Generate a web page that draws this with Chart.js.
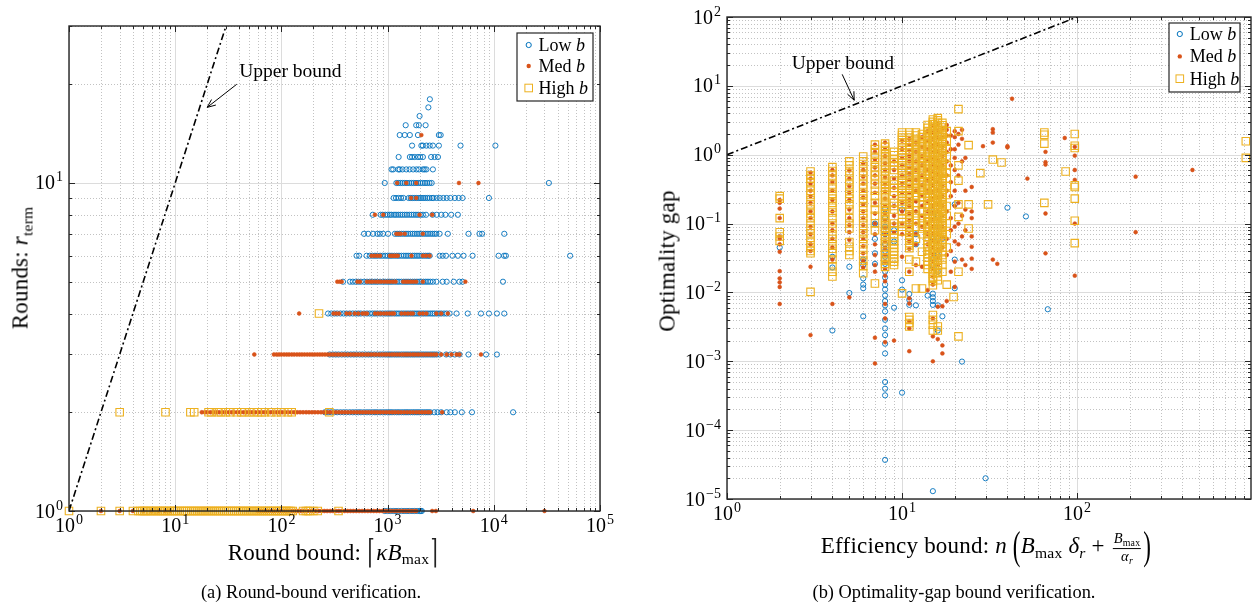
<!DOCTYPE html>
<html>
<head>
<meta charset="utf-8">
<script src="https://cdn.jsdelivr.net/npm/chart.js@4/dist/chart.umd.min.js"></script>
<style>
  body { margin: 0; width: 1258px; height: 603px; background: #fff; position: relative; overflow: hidden;
         font-family: "Liberation Serif", "DejaVu Serif", serif; color: #000; }
  canvas { position: absolute; top: 0; }
  .t { position: absolute; white-space: nowrap; transform: translate(-50%, -50%); font-size: 23px; line-height: 1; letter-spacing: 0.2px; }
  .rot { transform: translate(-50%, -50%) rotate(-90deg); }
  .cap { font-size: 18.4px; letter-spacing: 0; }
  sub { font-size: 0.68em; vertical-align: -0.3em; line-height: 0; }
  .paren { display: inline-block; transform: scale(1, 1.75); }
  .ceil { display: inline-block; transform: scale(0.8, 1.45); font-weight: 100; color: #222; }
  .frac { display: inline-flex; flex-direction: column; vertical-align: middle; font-size: 14.5px; text-align: center; line-height: 1.1; margin: 0 2px; }
  .frac > span:first-child { border-bottom: 1px solid #000; padding: 0 1px 1px; }
</style>
</head>
<body>
<canvas id="chartA" width="630" height="603" style="left:0"></canvas>
<canvas id="chartB" width="628" height="603" style="left:630px"></canvas>

<div class="t" style="left:333px; top:552px">Round bound: <span class="ceil">⌈</span><i>κB</i><sub>max</sub><span class="ceil">⌉</span></div>
<div class="t rot" style="left:20px; top:268px">Rounds: <i>r</i><sub>term</sub></div>
<div class="t cap" style="left:311px; top:592px">(a) Round-bound verification.</div>

<div class="t" style="left:986px; top:548px">Efficiency bound: <i>n</i> <span class="paren">(</span><i>B</i><sub>max</sub> <i>δ</i><sub><i>r</i></sub> + <span class="frac"><span><i>B</i><sub>max</sub></span><span><i>α</i><sub><i>r</i></sub></span></span><span class="paren">)</span></div>
<div class="t rot" style="left:667px; top:261px">Optimality gap</div>
<div class="t cap" style="left:954px; top:592px">(b) Optimality-gap bound verification.</div>

<script>
// (a) rows: [rounds, [round bound values]]
const lowA = [
  [18, [2500]],
  [17, [2420]],
  [16, [2000]],
  [15, [1480, 1860, 1970, 2280]],
  [14, [1300, 1450, 1620, 1930, 3040, 3160]],
  [13, [1700, 2080, 2150, 2320, 2490, 2670, 3040, 4860, 10350]],
  [12, [1270, 1620, 1700, 1800, 1930, 2030, 2150, 2570, 2770, 2980]],
  [11, [1090, 1130, 1260, 1300, 1380, 1500, 1610, 1740, 1870, 1980, 2150, 2230, 2320, 2670]],
  [10, [940, 1210, 1260, 1320, 1380, 1450, 1520, 1600, 1680, 1760, 1850, 1940, 2040, 2140, 2250, 2360, 2480, 2600, 33000]],
  [9, [1140, 1200, 1270, 1340, 1410, 1580, 1650, 1720, 1800, 1880, 1970, 2060, 2160, 2260, 2370, 2480, 2620, 2710, 2900, 3100, 3350, 3600, 3900, 4300, 4670, 5080, 9000]],
  [8, [725, 860, 900, 950, 1000, 1050, 1090, 1150, 1200, 1260, 1320, 1380, 1450, 1520, 1600, 1680, 1760, 1850, 1940, 2040, 2150, 2300, 2650, 2900, 3200, 3500, 3970, 4590]],
  [7, [600, 656, 730, 800, 845, 908, 1010, 1170, 1230, 1290, 1350, 1420, 1490, 1560, 1640, 1720, 1800, 1890, 1980, 2080, 2180, 2290, 2400, 2520, 2640, 2760, 2880, 3090, 3690, 5780, 7330, 7760, 12550]],
  [6, [510, 540, 634, 680, 720, 760, 800, 850, 900, 950, 1000, 1050, 1100, 1160, 1220, 1280, 1350, 1420, 1490, 1560, 1640, 1720, 1800, 1890, 1980, 2080, 2180, 2290, 2400, 2490, 3090, 3300, 3550, 4080, 4590, 5190, 6310, 11100, 12500, 13000, 52300]],
  [5, [380, 442, 470, 500, 530, 560, 600, 640, 680, 720, 760, 800, 850, 900, 950, 1000, 1050, 1100, 1160, 1220, 1280, 1350, 1420, 1490, 1560, 1640, 1720, 1800, 1890, 1980, 2080, 2180, 2290, 2400, 2520, 2670, 2880, 3300, 3600, 4200, 4750, 5080, 12200]],
  [4, [275, 295, 315, 335, 360, 385, 410, 440, 470, 500, 530, 560, 600, 640, 680, 720, 760, 800, 850, 900, 950, 1000, 1050, 1100, 1160, 1220, 1280, 1350, 1420, 1490, 1560, 1640, 1720, 1800, 1890, 1980, 2080, 2180, 2290, 2400, 2520, 2640, 2760, 2900, 3050, 3200, 3400, 3600, 3830, 4460, 5680, 7570, 9000, 10700, 12550]],
  [3, [285, 305, 325, 345, 370, 395, 420, 450, 480, 510, 545, 580, 620, 660, 700, 750, 800, 850, 900, 950, 1000, 1050, 1100, 1160, 1220, 1280, 1350, 1420, 1490, 1560, 1640, 1720, 1800, 1890, 1980, 2080, 2180, 2290, 2400, 2520, 2640, 2760, 2900, 3090, 3560, 3900, 4300, 4750, 5780, 8450, 10700]],
  [2, [257, 275, 295, 315, 335, 360, 385, 410, 440, 470, 500, 530, 560, 600, 640, 680, 720, 760, 800, 850, 900, 950, 1000, 1050, 1100, 1160, 1220, 1280, 1350, 1420, 1490, 1560, 1640, 1720, 1800, 1890, 1980, 2080, 2180, 2290, 2400, 2520, 2750, 2950, 3200, 3600, 3900, 4300, 5000, 6230, 15200]],
  [1, [940, 1000, 1060, 1130, 1200, 1270, 1350, 1430, 1520, 1600, 1700, 1800, 1900, 2000, 2050, 2100]]
];
const medA = [
  [14, [2080]],
  [10, [1230, 1500, 1860, 4700, 7170]],
  [9, [1660, 1860]],
  [8, [760, 910, 2000, 2630]],
  [7, [1210, 1270, 1330, 1450, 2150]],
  [6, [705, 750, 800, 850, 1050, 1100, 1150, 1200, 1250, 1680, 2150, 2300, 2490]],
  [5, [336, 354, 370, 520, 550, 640, 680, 720, 770, 820, 870, 930, 990, 1050, 1120, 1190, 1400, 1480, 1560, 1650, 1750, 1860, 2150, 5400]],
  [4, [147, 310, 330, 350, 410, 440, 490, 530, 580, 610, 640, 760, 810, 860, 920, 980, 1040, 1100, 1150, 1350, 1450, 1550, 1650, 1730, 2000, 2150, 2320, 2880, 3200, 3690]],
  [3, [55.6, 85, 90, 95, 100, 106, 112, 118, 125, 132, 140, 148, 156, 165, 175, 185, 195, 206, 218, 230, 243, 257, 272, 288, 304, 321, 340, 360, 380, 400, 425, 450, 475, 500, 530, 560, 590, 625, 660, 700, 740, 780, 830, 880, 930, 980, 1040, 1100, 1160, 1230, 1300, 1380, 1460, 1540, 1630, 1730, 1830, 1940, 2050, 2170, 2300, 2430, 2570, 2720, 2880, 3200, 3600, 4000, 4460, 4750, 7570]],
  [2, [17.8, 19, 20, 21.5, 23, 24.5, 26, 28, 30, 32, 34, 36, 38.5, 41, 44, 47, 50, 53, 57, 61, 65, 69, 74, 79, 84, 90, 96, 102, 109, 116, 124, 132, 141, 150, 160, 171, 182, 194, 207, 221, 236, 252, 269, 287, 306, 326, 348, 371, 396, 422, 450, 480, 512, 546, 582, 621, 662, 706, 753, 803, 856, 913, 974, 1040, 1110, 1180, 1260, 1340, 1430, 1530, 1630, 1740, 1860, 1980, 2110, 2250, 2400, 2520, 3260]],
  [1, [2, 3, 4, 5, 6, 7, 8, 9, 60, 64, 68, 72, 77, 82, 87, 93, 99, 105, 112, 119, 127, 135, 144, 153, 163, 174, 185, 197, 210, 224, 238, 254, 270, 288, 306, 326, 347, 370, 394, 420, 447, 476, 507, 540, 575, 612, 652, 694, 739, 787, 838, 893, 951, 1013, 1079, 1149, 1224, 1303, 1388, 1480, 1580, 1680, 1790, 1860, 2630, 2850, 6400, 30000]]
];
const highA = [
  [4, [226]],
  [2, [3, 8.1, 13.9, 15.1, 20.6, 22, 25, 27, 30, 33, 38, 42, 45, 50, 55, 60, 65, 70, 80, 90, 100, 115, 125, 283]],
  [1, [1, 2, 3, 4, 4.5, 4.7, 4.9, 5.1, 5.3, 5.5, 5.8, 6.0, 6.3, 6.6, 6.9, 7.2, 7.5, 7.8, 8.1, 8.5, 8.9, 9.3, 9.7,
       10.1, 10.5, 11, 11.5, 12, 12.5, 13, 13.6, 14.2, 14.8, 15.4, 16.1, 16.8, 17.5, 18.3, 19.1, 19.9, 20.8, 21.7,
       22.6, 23.6, 24.6, 25.7, 26.8, 28, 29.2, 30.5, 31.8, 33.2, 34.6, 36.1, 37.7, 39.3, 41, 42.8, 44.6, 46.6, 48.6,
       50.7, 52.9, 55.2, 57.6, 60.1, 62.7, 65.4, 68.2, 71.2, 74.3, 77.5, 80.8, 84.3, 88, 91.8, 95.8, 100, 104, 109,
       113, 118, 123, 128, 160, 170, 178, 185, 200, 220, 345]]
];
const boundA = [1, 30];

// (b) columns: [efficiency bound, [optimality gap values]]
const lowB = [
  [2, [0.045]],
  [4, [0.033, 0.023, 0.0028]],
  [5, [0.0236, 0.0098]],
  [6, [0.03, 0.025, 0.016, 0.013, 0.0115, 0.0045]],
  [7, [0.1, 0.06, 0.037, 0.026]],
  [8, [0.16, 0.12, 0.09, 0.07, 0.05, 0.04, 0.033, 0.026, 0.02, 0.0165, 0.013, 0.011, 0.009, 0.0075, 0.0065, 0.0053, 0.004, 0.003, 0.0024, 0.0018, 0.0013, 0.0005, 0.0004, 0.00032, 0.000037]],
  [9, [0.08, 0.055, 0.006]],
  [10, [0.16, 0.015, 0.011, 0.00035]],
  [11, [0.0095, 0.0078, 0.0066]],
  [12, [0.07, 0.05, 0.0065]],
  [14, [0.009]],
  [15, [0.15, 0.06, 0.03, 0.024, 0.0096, 0.0085, 0.0075, 0.0066, 0.000013]],
  [16, [0.13, 0.09, 0.035, 0.02, 0.0065, 0.0028]],
  [17, [0.06, 0.0045]],
  [20, [0.19, 0.03, 0.0115]],
  [22, [0.00099]],
  [30, [0.00002]],
  [40, [0.17]],
  [51, [0.127]],
  [68, [0.0057]]
];
const medB = [
  [2, [0.22, 0.2, 0.165, 0.12, 0.065, 0.06, 0.05, 0.039, 0.0204, 0.016, 0.014, 0.012, 0.0068]],
  [3, [0.55, 0.45, 0.38, 0.3, 0.25, 0.2, 0.15, 0.12, 0.09, 0.07, 0.05, 0.04, 0.0236, 0.0024]],
  [4, [0.6, 0.5, 0.4, 0.3, 0.22, 0.15, 0.1, 0.08, 0.06, 0.045, 0.03, 0.0068]],
  [5, [0.59, 0.45, 0.35, 0.28, 0.22, 0.16, 0.12, 0.095, 0.075, 0.058, 0.0085]],
  [6, [0.75, 0.6, 0.48, 0.38, 0.3, 0.24, 0.19, 0.15, 0.12, 0.095, 0.075, 0.06, 0.047, 0.037, 0.029, 0.023]],
  [7, [1.4, 1.1, 0.85, 0.65, 0.5, 0.38, 0.28, 0.2, 0.14, 0.1, 0.07, 0.05, 0.035, 0.025, 0.02, 0.0022, 0.00093]],
  [8, [1.5, 1.2, 0.95, 0.75, 0.6, 0.47, 0.37, 0.29, 0.23, 0.18, 0.14, 0.11, 0.087, 0.069, 0.055, 0.044, 0.035, 0.028, 0.022, 0.0175, 0.0145, 0.0068, 0.0042, 0.0019]],
  [9, [0.8, 0.6, 0.45, 0.33, 0.25, 0.18, 0.13, 0.1, 0.075, 0.002]],
  [10, [1.6, 1.2, 0.9, 0.7, 0.5, 0.38, 0.28, 0.2, 0.15, 0.1, 0.07, 0.033]],
  [11, [1.7, 1.4, 1.15, 0.95, 0.8, 0.65, 0.53, 0.43, 0.35, 0.28, 0.22, 0.18, 0.14, 0.11, 0.09, 0.07, 0.055, 0.043, 0.02, 0.0082, 0.0069, 0.0038, 0.003, 0.0014]],
  [12, [1.5, 1.1, 0.8, 0.6, 0.43, 0.3, 0.21, 0.15, 0.1, 0.07, 0.05, 0.025]],
  [13, [1.8, 1.3, 0.95, 0.7, 0.5, 0.36, 0.26, 0.18, 0.13, 0.09, 0.0236]],
  [14, [2.2, 1.6, 1.2, 0.85, 0.6, 0.42, 0.3, 0.21, 0.15, 0.1, 0.07, 0.05, 0.0108]],
  [15, [2.6, 2.1, 1.7, 1.35, 1.1, 0.88, 0.7, 0.56, 0.45, 0.36, 0.29, 0.23, 0.18, 0.145, 0.115, 0.09, 0.072, 0.057, 0.045, 0.036, 0.028, 0.022, 0.017, 0.013, 0.0042, 0.0023, 0.001]],
  [16, [2.8, 2.2, 1.75, 1.4, 1.1, 0.85, 0.66, 0.52, 0.4, 0.31, 0.24, 0.19, 0.15, 0.115, 0.09, 0.07, 0.054, 0.042, 0.032, 0.025, 0.0062, 0.0021]],
  [17, [2.4, 1.8, 1.3, 0.95, 0.7, 0.5, 0.35, 0.25, 0.18, 0.13, 0.09, 0.063, 0.045, 0.0063, 0.0017, 0.0013]],
  [18, [2.7, 2.3, 1.9, 1.5, 1.1, 0.8, 0.5, 0.3, 0.15, 0.06, 0.035, 0.0075]],
  [19, [1.9, 1.2, 0.7, 0.4, 0.25, 0.12, 0.08, 0.04, 0.02]],
  [20, [2.2, 1.8, 1.2, 0.9, 0.6, 0.3, 0.18, 0.09, 0.055, 0.028, 0.012]],
  [21, [2.0, 1.4, 0.5, 0.2, 0.1, 0.05]],
  [22, [2.3, 1.7, 0.8, 0.13, 0.065, 0.03]],
  [23, [0.9, 0.3, 0.16, 0.08, 0.025]],
  [25, [0.34, 0.15, 0.12, 0.065, 0.046, 0.031, 0.022]],
  [29, [1.33]],
  [33, [2.35, 2.1, 1.5, 0.03]],
  [35, [0.026]],
  [40, [1.33, 1.28]],
  [42.5, [6.5]],
  [52, [0.45]],
  [66, [1.1, 0.78, 0.72, 0.14, 0.037]],
  [85, [1.75]],
  [97, [1.3, 0.97, 0.6, 0.43, 0.1, 0.0175]],
  [216, [0.48, 0.075]],
  [456, [0.6]]
];
const highB = [
  [2, [0.25, 0.23, 0.12, 0.075, 0.065, 0.056]],
  [3, [0.57, 0.5, 0.45, 0.4, 0.35, 0.3, 0.26, 0.22, 0.19, 0.16, 0.14, 0.12, 0.1, 0.085, 0.072, 0.062, 0.053, 0.045, 0.04, 0.037, 0.0102]],
  [4, [0.66, 0.58, 0.5, 0.43, 0.37, 0.32, 0.27, 0.23, 0.2, 0.17, 0.145, 0.12, 0.1, 0.085, 0.07, 0.06, 0.05, 0.043, 0.037, 0.03, 0.024, 0.02, 0.017]],
  [5, [0.8, 0.7, 0.58, 0.5, 0.43, 0.37, 0.32, 0.27, 0.23, 0.19, 0.16, 0.12, 0.1, 0.085, 0.054, 0.046, 0.04, 0.035]],
  [6, [0.94, 0.8, 0.68, 0.58, 0.5, 0.43, 0.37, 0.32, 0.27, 0.23, 0.2, 0.17, 0.14, 0.12, 0.1, 0.085, 0.072, 0.06, 0.05, 0.042, 0.035, 0.029, 0.024, 0.019]],
  [7, [1.4, 1.2, 1.05, 0.9, 0.78, 0.66, 0.57, 0.5, 0.43, 0.37, 0.3, 0.25, 0.2, 0.16, 0.13, 0.1, 0.08, 0.0135]],
  [8, [1.45, 1.3, 1.17, 1.05, 0.95, 0.85, 0.77, 0.69, 0.62, 0.56, 0.5, 0.45, 0.405, 0.365, 0.33, 0.295, 0.265, 0.24, 0.215, 0.195, 0.175, 0.157, 0.142, 0.128, 0.115, 0.104, 0.094, 0.084, 0.076, 0.068, 0.061, 0.055, 0.05, 0.045, 0.04, 0.036, 0.032, 0.029, 0.026, 0.0235]],
  [9, [1.1, 0.98, 0.87, 0.78, 0.7, 0.6, 0.42, 0.37, 0.33, 0.29, 0.2, 0.18, 0.16, 0.1, 0.09, 0.08, 0.07, 0.062, 0.055, 0.049, 0.044, 0.039, 0.035, 0.031, 0.028, 0.025]],
  [10, [2.1, 1.93, 1.77, 1.63, 1.5, 1.38, 1.27, 1.17, 1.07, 0.98, 0.9, 0.83, 0.76, 0.7, 0.64, 0.59, 0.54, 0.5, 0.46, 0.42, 0.39, 0.36, 0.33, 0.3, 0.275, 0.25, 0.23, 0.21, 0.19, 0.15, 0.12, 0.105, 0.09, 0.077, 0.0097]],
  [11, [2.1, 1.93, 1.77, 1.63, 1.5, 1.38, 1.27, 1.17, 1.07, 0.98, 0.9, 0.83, 0.76, 0.7, 0.64, 0.59, 0.54, 0.5, 0.46, 0.42, 0.39, 0.36, 0.33, 0.3, 0.275, 0.25, 0.23, 0.21, 0.19, 0.175, 0.16, 0.147, 0.135, 0.124, 0.114, 0.105, 0.096, 0.088, 0.081, 0.074, 0.068, 0.062, 0.057, 0.052, 0.048, 0.044, 0.03, 0.02, 0.0044, 0.004, 0.0036, 0.0032]],
  [12, [2.1, 1.9, 1.7, 1.55, 1.4, 1.27, 1.15, 1.04, 0.94, 0.85, 0.77, 0.7, 0.63, 0.57, 0.52, 0.47, 0.42, 0.38, 0.34, 0.31, 0.28, 0.25, 0.2, 0.155, 0.13, 0.11, 0.09, 0.06, 0.028, 0.0114]],
  [13, [2.0, 1.8, 1.62, 1.46, 1.32, 1.19, 1.07, 0.96, 0.87, 0.78, 0.7, 0.63, 0.57, 0.51, 0.46, 0.41, 0.37, 0.33, 0.3, 0.27, 0.24, 0.19, 0.15, 0.12, 0.1, 0.085, 0.07, 0.039, 0.0114]],
  [14, [2.7, 2.45, 2.2, 2.0, 1.8, 1.62, 1.46, 1.32, 1.19, 1.07, 0.96, 0.87, 0.78, 0.7, 0.63, 0.57, 0.51, 0.46, 0.41, 0.37, 0.33, 0.3, 0.27, 0.24, 0.215, 0.19, 0.17, 0.15, 0.135, 0.12, 0.108, 0.097, 0.087, 0.078, 0.07, 0.063, 0.056, 0.05, 0.045, 0.04, 0.036, 0.032, 0.028, 0.025, 0.022]],
  [15, [3.25, 3.0, 2.78, 2.57, 2.38, 2.2, 2.04, 1.89, 1.75, 1.62, 1.5, 1.39, 1.29, 1.19, 1.1, 1.02, 0.945, 0.875, 0.81, 0.75, 0.695, 0.643, 0.595, 0.551, 0.51, 0.472, 0.437, 0.405, 0.375, 0.347, 0.321, 0.297, 0.275, 0.255, 0.236, 0.218, 0.202, 0.187, 0.173, 0.16, 0.148, 0.137, 0.127, 0.118, 0.109, 0.101, 0.093, 0.086, 0.08, 0.074, 0.0685, 0.0634, 0.0587, 0.0543, 0.0503, 0.0466, 0.0431, 0.0399, 0.037, 0.0342, 0.0317, 0.0293, 0.0272, 0.0251, 0.0233, 0.0215, 0.0199, 0.0185, 0.017, 0.0158, 0.0146, 0.0127, 0.0047, 0.004, 0.0034, 0.0028]],
  [16, [3.4, 3.15, 2.9, 2.7, 2.5, 2.3, 2.15, 2.0, 1.85, 1.7, 1.58, 1.46, 1.35, 1.25, 1.16, 1.07, 1.0, 0.92, 0.85, 0.79, 0.73, 0.68, 0.63, 0.58, 0.54, 0.5, 0.46, 0.43, 0.4, 0.37, 0.34, 0.315, 0.29, 0.27, 0.25, 0.23, 0.215, 0.2, 0.185, 0.17, 0.158, 0.146, 0.135, 0.125, 0.116, 0.107, 0.1, 0.092, 0.085, 0.079, 0.073, 0.068, 0.063, 0.058, 0.054, 0.05, 0.046, 0.043, 0.04, 0.037, 0.034, 0.0315, 0.029, 0.027, 0.025, 0.023, 0.021, 0.019, 0.017, 0.015, 0.0032, 0.0028]],
  [17, [2.9, 2.68, 2.48, 2.3, 2.12, 1.96, 1.82, 1.68, 1.56, 1.44, 1.33, 1.23, 1.14, 1.06, 0.98, 0.9, 0.84, 0.77, 0.72, 0.66, 0.61, 0.57, 0.53, 0.49, 0.45, 0.42, 0.385, 0.355, 0.33, 0.305, 0.28, 0.26, 0.24, 0.22, 0.205, 0.19, 0.175, 0.162, 0.15, 0.139, 0.128, 0.119, 0.11, 0.102, 0.094, 0.087, 0.08, 0.074, 0.069, 0.064, 0.059, 0.054, 0.05, 0.045, 0.04, 0.035, 0.03, 0.025, 0.02]],
  [18, [2.2, 1.6, 1.2, 0.95, 0.7, 0.55, 0.45, 0.35, 0.26, 0.18, 0.13, 0.1, 0.07, 0.045, 0.013]],
  [19.7, [0.0086]],
  [21, [4.6, 2.2, 0.7, 0.42, 0.19, 0.125, 0.02, 0.0023]],
  [24, [1.38, 0.19, 0.085]],
  [28, [0.54]],
  [31, [0.19]],
  [33, [0.85]],
  [37, [0.77]],
  [65, [2.1, 1.95, 1.45, 0.2]],
  [86, [0.57]],
  [97, [2.0, 1.35, 1.25, 0.36, 0.34, 0.23, 0.11, 0.052]],
  [920, [1.57, 0.9]]
];
const boundB = [1, 100];

// decade ticks (labels are 10^k)
const xTicksA = [1, 10, 100, 1000, 10000, 100000];
const yTicksA = [1, 10];
const xTicksB = [1, 10, 100];
const yTicksB = [1e-5, 1e-4, 1e-3, 1e-2, 1e-1, 1, 10, 100];

const LOW = '#0072BD', MED = '#D95319', HIGH = '#EDB120', AX = '#262626';
const FONT = '"Liberation Serif", "DejaVu Serif", serif';

function rowsToPts(rows) {
  const out = [];
  rows.forEach(([y, xs]) => xs.forEach(x => out.push({ x: x, y: y })));
  return out;
}
function colsToPts(cols) {
  const out = [];
  cols.forEach(([x, ys]) => ys.forEach(y => out.push({ x: x, y: y })));
  return out;
}
function minorsOf(majors, lo, hi) {
  const out = [];
  majors.forEach(m => {
    for (let k = 2; k <= 9; k++) {
      const v = m * k;
      if (v > lo * 1.0001 && v < hi * 0.9999) out.push(v);
    }
  });
  return out;
}
function drawPow(ctx, v, px, py, align) {
  const k = Math.round(Math.log10(v));
  const e = k < 0 ? '\u2212' + (-k) : String(k);
  ctx.font = '20px ' + FONT;
  const wb = ctx.measureText('10').width;
  ctx.font = '14px ' + FONT;
  const we = ctx.measureText(e).width;
  const w = wb + 1 + we;
  const left = align === 'center' ? px - w / 2 : px - w;
  ctx.textAlign = 'left';
  ctx.textBaseline = 'alphabetic';
  ctx.font = '20px ' + FONT;
  ctx.fillText('10', left, py);
  ctx.font = '14px ' + FONT;
  ctx.fillText(e, left + wb + 1, py - 8);
}

const matlabAxes = {
  id: 'matlabAxes',
  beforeDatasetsDraw(chart, args, o) {
    const { ctx, chartArea: a, scales: { x, y } } = chart;
    ctx.save();
    ctx.lineWidth = 1;
    ctx.strokeStyle = '#c2c2c2';
    ctx.setLineDash([1, 2]);
    minorsOf(o.xTicks, x.min, x.max).forEach(v => {
      const p = Math.round(x.getPixelForValue(v)) + 0.5;
      ctx.beginPath(); ctx.moveTo(p, a.top); ctx.lineTo(p, a.bottom); ctx.stroke();
    });
    minorsOf(o.yTicks, y.min, y.max).forEach(v => {
      const p = Math.round(y.getPixelForValue(v)) + 0.5;
      ctx.beginPath(); ctx.moveTo(a.left, p); ctx.lineTo(a.right, p); ctx.stroke();
    });
    ctx.setLineDash([]);
    ctx.strokeStyle = '#dcdcdc';
    o.xTicks.forEach(v => {
      const p = Math.round(x.getPixelForValue(v)) + 0.5;
      ctx.beginPath(); ctx.moveTo(p, a.top); ctx.lineTo(p, a.bottom); ctx.stroke();
    });
    o.yTicks.forEach(v => {
      const p = Math.round(y.getPixelForValue(v)) + 0.5;
      ctx.beginPath(); ctx.moveTo(a.left, p); ctx.lineTo(a.right, p); ctx.stroke();
    });
    ctx.restore();
  },
  afterDatasetsDraw(chart, args, o) {
    const { ctx, chartArea: a, scales: { x, y } } = chart;
    ctx.save();
    ctx.strokeStyle = AX;
    ctx.fillStyle = '#000';
    ctx.lineWidth = 1;
    const tick = (v, sc, len, horiz) => {
      const p = Math.round(sc.getPixelForValue(v)) + 0.5;
      ctx.beginPath();
      if (horiz) {
        ctx.moveTo(p, a.bottom); ctx.lineTo(p, a.bottom - len);
        ctx.moveTo(p, a.top); ctx.lineTo(p, a.top + len);
      } else {
        ctx.moveTo(a.left, p); ctx.lineTo(a.left + len, p);
        ctx.moveTo(a.right, p); ctx.lineTo(a.right - len, p);
      }
      ctx.stroke();
    };
    minorsOf(o.xTicks, x.min, x.max).forEach(v => tick(v, x, 3, true));
    minorsOf(o.yTicks, y.min, y.max).forEach(v => tick(v, y, 3, false));
    o.xTicks.forEach(v => tick(v, x, 6, true));
    o.yTicks.forEach(v => tick(v, y, 6, false));
    ctx.lineWidth = 1.4;
    ctx.strokeRect(a.left, a.top, a.right - a.left, a.bottom - a.top);

    o.xTicks.forEach(v => drawPow(ctx, v, x.getPixelForValue(v), a.bottom + 21, 'center'));
    o.yTicks.forEach(v => drawPow(ctx, v, a.left - 6, y.getPixelForValue(v) + 6.5, 'right'));

    // annotation
    const n = o.note;
    const tx = x.getPixelForValue(n.text[0]), ty = y.getPixelForValue(n.text[1]);
    ctx.font = '19.5px ' + FONT;
    ctx.textAlign = 'left';
    ctx.fillText('Upper bound', tx, ty);
    const x0 = x.getPixelForValue(n.from[0]), y0 = y.getPixelForValue(n.from[1]);
    const x1 = x.getPixelForValue(n.to[0]), y1 = y.getPixelForValue(n.to[1]);
    const ang = Math.atan2(y1 - y0, x1 - x0);
    ctx.lineWidth = 1;
    ctx.strokeStyle = '#000';
    ctx.beginPath();
    ctx.moveTo(x0, y0); ctx.lineTo(x1, y1);
    ctx.moveTo(x1 - 9 * Math.cos(ang - 0.4), y1 - 9 * Math.sin(ang - 0.4));
    ctx.lineTo(x1, y1);
    ctx.lineTo(x1 - 9 * Math.cos(ang + 0.4), y1 - 9 * Math.sin(ang + 0.4));
    ctx.stroke();

    // legend
    const L = o.legend;
    ctx.fillStyle = '#fff';
    ctx.fillRect(L.x, L.y, L.w, L.h);
    ctx.strokeStyle = AX;
    ctx.lineWidth = 1.2;
    ctx.strokeRect(L.x, L.y, L.w, L.h);
    const names = ['Low ', 'Med ', 'High '];
    names.forEach((nm, i) => {
      const cy = L.y + L.rows[i];
      const mx = L.x + L.mark;
      ctx.lineWidth = 1;
      if (i === 0) {
        ctx.strokeStyle = LOW;
        ctx.beginPath(); ctx.arc(mx, cy, 2.6, 0, Math.PI * 2); ctx.stroke();
      } else if (i === 1) {
        ctx.fillStyle = MED;
        ctx.beginPath(); ctx.arc(mx, cy, 2.2, 0, Math.PI * 2); ctx.fill();
      } else {
        ctx.strokeStyle = HIGH;
        ctx.strokeRect(mx - 3.8, cy - 3.8, 7.6, 7.6);
      }
      ctx.fillStyle = '#000';
      ctx.font = '18px ' + FONT;
      ctx.textAlign = 'left';
      ctx.fillText(nm, L.x + L.text, cy + 6);
      const w = ctx.measureText(nm).width;
      ctx.font = 'italic 18px ' + FONT;
      ctx.fillText('b', L.x + L.text + w, cy + 6);
    });
    ctx.restore();
  }
};

function makeChart(id, low, med, high, bound, xr, yr, pad, opts) {
  const pointBase = { showLine: false, clip: false, pointHoverRadius: 0 };
  return new Chart(document.getElementById(id), {
    type: 'scatter',
    data: {
      datasets: [
        { label: 'bound', data: bound.map(v => ({ x: v, y: v })), showLine: true,
          borderColor: '#000', borderWidth: 1.6, borderDash: [7, 3, 2, 3], pointRadius: 0, order: 0 },
        Object.assign({ label: 'High b', data: high, pointStyle: 'rect', pointRadius: 5.3,
          borderColor: HIGH, backgroundColor: 'rgba(0,0,0,0)', borderWidth: 1.1, order: 1 }, pointBase),
        Object.assign({ label: 'Med b', data: med, pointStyle: 'circle', pointRadius: 1.9,
          borderColor: MED, backgroundColor: MED, borderWidth: 0.6, order: 2 }, pointBase),
        Object.assign({ label: 'Low b', data: low, pointStyle: 'circle', pointRadius: 2.6,
          borderColor: LOW, backgroundColor: 'rgba(0,0,0,0)', borderWidth: 0.9, order: 3 }, pointBase)
      ]
    },
    options: {
      responsive: false,
      animation: false,
      events: [],
      layout: { padding: pad },
      scales: {
        x: { type: 'logarithmic', min: xr[0], max: xr[1], display: false },
        y: { type: 'logarithmic', min: yr[0], max: yr[1], display: false }
      },
      plugins: { legend: { display: false }, tooltip: { enabled: false }, matlabAxes: opts }
    },
    plugins: [matlabAxes]
  });
}

makeChart('chartA', rowsToPts(lowA), rowsToPts(medA), rowsToPts(highA), boundA,
  [1, 100000], [1, 30.1],
  { left: 69, top: 26, right: 30, bottom: 92 },
  { xTicks: xTicksA, yTicks: yTicksA,
    note: { text: [40, 21], from: [38, 20], to: [20, 17] },
    legend: { x: 517, y: 33, w: 76, h: 68, rows: [12, 33, 55], mark: 11.7, text: 21.6 } });

makeChart('chartB', colsToPts(lowB), colsToPts(medB), colsToPts(highB), boundB,
  [1, 985], [1e-5, 100],
  { left: 97, top: 17, right: 7, bottom: 104 },
  { xTicks: xTicksB, yTicks: yTicksB,
    note: { text: [2.34, 17.8], from: [4.55, 14.7], to: [5.33, 6.18] },
    legend: { x: 539, y: 23, w: 71, h: 69, rows: [11, 33.4, 55.7], mark: 10.8, text: 20.8 } });
</script>
</body>
</html>
